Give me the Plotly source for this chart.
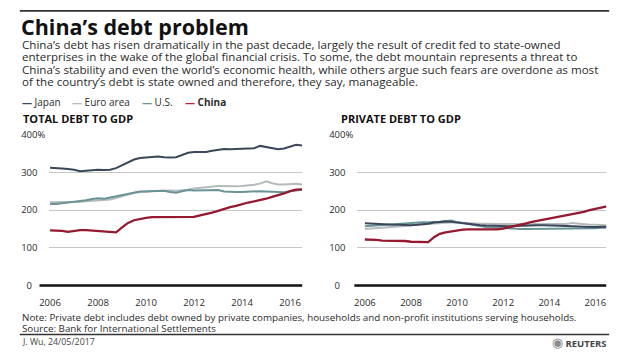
import plotly.graph_objects as go

W, H = 620, 354

# ---------------- data (quarterly, decimal years) ----------------
quarters = [2006.0, 2006.25, 2006.5, 2006.75, 2007.0, 2007.25, 2007.5, 2007.75,
            2008.0, 2008.25, 2008.5, 2008.75, 2009.0, 2009.25, 2009.5, 2009.75,
            2010.0, 2010.25, 2010.5, 2010.75, 2011.0, 2011.25, 2011.5, 2011.75,
            2012.0, 2012.25, 2012.5, 2012.75, 2013.0, 2013.25, 2013.5, 2013.75,
            2014.0, 2014.25, 2014.5, 2014.75, 2015.0, 2015.25, 2015.5, 2015.75,
            2016.0, 2016.25, 2016.5]

total_japan = [312, 310, 310, 309, 307, 303, 304, 306, 307, 306, 307, 311,
               319, 327, 334, 338, 340, 340, 342, 340, 339, 340, 346, 352,
               354, 353, 354, 357, 359, 362, 361, 362, 361, 362, 364, 370,
               367, 364, 361, 363, 368, 373, 371]
total_euro = [221, 221, 221, 221, 222, 222, 223, 224, 225, 226, 228, 232,
              237, 242, 246, 248, 248, 250, 251, 251, 252, 251, 252, 254,
              257, 259, 261, 263, 264, 264, 263, 263, 264, 265, 267, 270,
              276, 271, 268, 268, 270, 270, 268]
total_us = [216, 216, 218, 220, 222, 223, 226, 229, 231, 230, 233, 237,
            241, 244, 247, 249, 250, 251, 252, 251, 248, 246, 250, 253,
            252, 252, 252, 253, 253, 249, 248, 248, 248, 249, 249, 250,
            249, 248, 246, 247, 250, 253, 254]
total_china = [146, 146, 145, 142, 145, 147, 147, 146, 145, 143, 142, 141,
               154, 166, 173, 177, 179, 181, 181, 181, 181, 181, 181, 180,
               182, 186, 189, 193, 198, 204, 208, 211, 216, 220, 223, 226,
               230, 235, 239, 244, 250, 254, 255]

private_japan = [165, 164, 163, 162, 161, 161, 161, 160, 160, 161, 162, 164,
                 167, 169, 170, 169, 167, 165, 163, 161, 160, 159, 158, 157,
                 157, 157, 158, 159, 160, 160, 160, 160, 160, 159, 158, 158,
                 157, 156, 155, 155, 155, 155, 156]
private_euro = [150, 151, 152, 153, 154, 155, 157, 158, 160, 161, 163, 164,
                166, 167, 168, 168, 167, 166, 165, 164, 164, 164, 163, 163,
                163, 163, 163, 162, 162, 162, 162, 161, 161, 161, 162, 163,
                166, 164, 162, 161, 161, 160, 160]
private_us = [157, 158, 159, 160, 161, 163, 165, 166, 167, 167, 168, 168,
              168, 169, 171, 172, 168, 165, 162, 159, 157, 155, 154, 153,
              152, 151, 151, 150, 150, 150, 150, 150, 150, 150, 150, 150,
              150, 151, 151, 151, 152, 153, 153]
private_china = [122, 122, 121, 119, 119, 120, 120, 118, 116, 116, 115, 115,
                 128, 137, 141, 144, 146, 148, 149, 149, 149, 149, 148, 149,
                 151, 154, 157, 161, 165, 169, 172, 174, 178, 181, 183, 186,
                 189, 192, 195, 200, 204, 208, 210]

series_names = ["Japan", "Euro area", "U.S.", "China"]
x_tickvals = [2006, 2008, 2010, 2012, 2014, 2016]
x_ticktext = ["2006", "2008", "2010", "2012", "2014", "2016"]
y_tickvals = [0, 100, 200, 300, 400]
y_ticktext = ["0<span style='color:white'>0%</span>",
              "100<span style='color:white'>%</span>",
              "200<span style='color:white'>%</span>",
              "300<span style='color:white'>%</span>",
              "400%"]

# ---------------- styles ----------------
COLORS = {"Japan": "#3b475b", "Euro area": "#b5babd", "U.S.": "#6a9396", "China": "#951a2f"}
LEGEND_COLORS = {"Japan": "#3b475b", "Euro area": "#b5babd", "U.S.": "#6a9396", "China": "#c0203f"}
WIDTHS = {"Japan": 2.0, "Euro area": 2.0, "U.S.": 2.0, "China": 2.3}
FONT = "Open Sans"
TXT = "#2b2b2b"


def px_x(p):
    return p / W


def px_y(p):
    return 1 - p / H


Y_RANGE = [-4, 402]
ppu = (288.5 - 132.7) / 400.0
y_dom = [px_y(288.5 - (Y_RANGE[0]) * ppu), px_y(288.5 - Y_RANGE[1] * ppu)]

fig = go.Figure()

order = ["Euro area", "U.S.", "Japan", "China"]
total = {"Japan": total_japan, "Euro area": total_euro, "U.S.": total_us, "China": total_china}
private = {"Japan": private_japan, "Euro area": private_euro, "U.S.": private_us, "China": private_china}

for name in order:
    fig.add_trace(go.Scatter(x=quarters, y=total[name], mode="lines", name=name,
                             line=dict(color=COLORS[name], width=WIDTHS[name]),
                             xaxis="x", yaxis="y", showlegend=False))
for name in order:
    fig.add_trace(go.Scatter(x=quarters, y=private[name], mode="lines", name=name,
                             line=dict(color=COLORS[name], width=WIDTHS[name]),
                             xaxis="x2", yaxis="y2", showlegend=False))

axis_common_x = dict(tickvals=x_tickvals, ticktext=x_ticktext, showgrid=False, zeroline=False,
                     showline=False, ticks="", tickfont=dict(family=FONT, size=9.5, color=TXT),
                     ticklabelstandoff=8, fixedrange=True)
axis_common_y = dict(range=Y_RANGE, tickvals=y_tickvals, ticktext=y_ticktext, showgrid=True,
                     gridcolor="#c6c6c6", gridwidth=1.2, zeroline=False, showline=False, ticks="",
                     tickfont=dict(family=FONT, size=9.5, color=TXT), ticklabelstandoff=3,
                     domain=y_dom, fixedrange=True)

lx0, lx1, l06, lpy = 40, 297, 40.7, 24.4
rx0, rx1, r06, rpy = 353, 606, 360.7, 23.43

fig.update_layout(
    width=W, height=H, margin=dict(l=0, r=0, t=0, b=0),
    paper_bgcolor="white", plot_bgcolor="white",
    xaxis=dict(domain=[px_x(lx0), px_x(lx1)],
               range=[2006 + (lx0 - l06) / lpy, 2006 + (lx1 - l06) / lpy],
               anchor="y", **axis_common_x),
    yaxis=dict(anchor="x", **axis_common_y),
    xaxis2=dict(domain=[px_x(rx0), px_x(rx1)],
                range=[2006 + (rx0 - r06) / rpy, 2006 + (rx1 - r06) / rpy],
                anchor="y2", **axis_common_x),
    yaxis2=dict(anchor="x2", **axis_common_y),
)

y0_dom = (0 - Y_RANGE[0]) / (Y_RANGE[1] - Y_RANGE[0])
fig.add_shape(type="line", xref="x domain", yref="y domain",
              x0=(30 - lx0) / (lx1 - lx0), x1=1, y0=y0_dom, y1=y0_dom,
              line=dict(color="#111111", width=2.6))
fig.add_shape(type="line", xref="x2 domain", yref="y2 domain",
              x0=(350 - rx0) / (rx1 - rx0), x1=1, y0=y0_dom, y1=y0_dom,
              line=dict(color="#111111", width=2.6))

for yy in (5, 339):
    fig.add_shape(type="line", xref="paper", yref="paper", x0=px_x(10), x1=px_x(609),
                  y0=px_y(yy), y1=px_y(yy), line=dict(color="#333333", width=1.6))


def ann(text, x, y, size, color=TXT, xanchor="left", bold=False, yanchor="middle"):
    if bold:
        text = "<b>" + text + "</b>"
    fig.add_annotation(text=text, x=px_x(x), y=px_y(y), xref="paper", yref="paper",
                       xanchor=xanchor, yanchor=yanchor, showarrow=False, align="left",
                       font=dict(family=FONT, size=size, color=color))


def block(lines, x, y_first, spacing, size, color=TXT):
    # one text block; line pitch = 1.3 * base size, glyphs drawn at `size`
    base = spacing / 1.3
    body = "<br>".join("<span style='font-size:%.1fpx'>%s</span>" % (size, l) for l in lines)
    y_mid = y_first + spacing * (len(lines) - 1) / 2.0
    ann(body, x, y_mid, base, color=color)


ann("China’s debt problem", 9, 21, 21.5, color="#111111", bold=True)
para = [
    "China’s debt has risen dramatically in the past decade, largely the result of credit fed to state-owned",
    "enterprises in the wake of the global financial crisis. To some, the debt mountain represents a threat to",
    "China’s stability and even the world’s economic health, while others argue such fears are overdone as most",
    "of the country’s debt is state owned and therefore, they say, manageable.",
]
block(para, 10, 40.5, 12.4, 11.6)

legend_x = [10, 61, 132, 176]
for name, lx in zip(series_names, legend_x):
    label = "<b>" + name + "</b>" if name == "China" else name
    ann("<span style='color:%s'><b>—</b></span> %s" % (LEGEND_COLORS[name], label), lx, 99, 10)

ann("TOTAL DEBT TO GDP", 11, 116, 11, color="#111111", bold=True)
ann("PRIVATE DEBT TO GDP", 334, 116, 11, color="#111111", bold=True)

block(["Note: Private debt includes debt owned by private companies, households and non-profit institutions serving households.",
       "Source: Bank for International Settlements"], 10, 322, 11, 9.8)
ann("J. Wu, 24/05/2017", 10, 347, 8.8, color="#444444")
ann("<span style='color:#8a8a8a;font-size:13px'>◉</span> <b>REUTERS</b>", 609, 347, 9.5,
    color="#444444", xanchor="right")

fig.write_html("out.html")
